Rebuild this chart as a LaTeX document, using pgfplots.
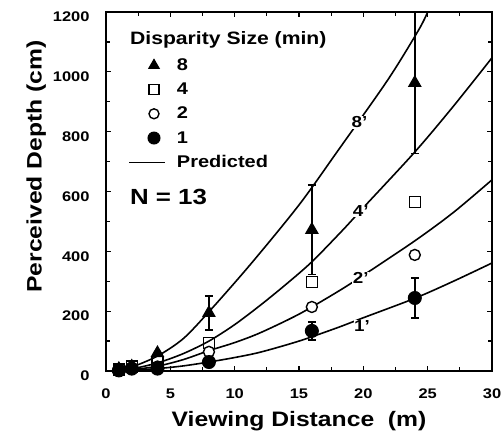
\documentclass[border=0pt]{standalone}
\usepackage{fontspec}
\setmainfont[FakeStretch=1.18]{Liberation Sans}
\usepackage{pgfplots}
\pgfplotsset{compat=1.18}
\begin{document}
\begin{tikzpicture}
\begin{axis}[
  name=ax,
  scale only axis,
  width=386bp, height=359bp,
  xmin=0, xmax=30, ymin=0, ymax=1200,
  xtick={0,5,...,30}, ytick={0,200,...,1200},
  minor x tick num=1, minor y tick num=1,
  tick align=inside,
  major tick length=5bp, minor tick length=4bp,
  every tick/.style={black, line width=1.2bp},
  axis line style={line width=1.6bp},
  /pgf/number format/assume math mode=true,
  /pgf/number format/1000 sep={},
  ticklabel style={font=\bfseries\fontsize{14}{14}\selectfont},
  yticklabel style={yshift=-5bp, xshift=-13bp},
  xticklabel style={yshift=-14bp},
  xlabel={Viewing Distance\ \ (m)},
  ylabel={Perceived Depth (cm)},
  label style={font=\bfseries\fontsize{21}{21}\selectfont},
  xlabel style={yshift=-6bp},
  ylabel style={at={(ticklabel cs:0.57)}},
  legend cell align=left,
  legend style={at={(0.057,0.876)}, anchor=north west, draw=none, fill=none,
    font=\bfseries\fontsize{17}{17}\selectfont, row sep=7bp, inner sep=0pt},
]

% predicted curves
\addplot[black, line width=1.6bp, smooth, forget plot] coordinates {
  (1,3) (2,13) (4,50) (6,108) (8,198) (11.2,355) (15,555) (18,735) (21.9,973) (24.3,1140) (25,1200)};
\addplot[black, line width=1.6bp, smooth, forget plot] coordinates {
  (1,2) (2,7) (4,27) (6,58) (8,100) (10,155) (12,220) (14,290) (16,365) (18.4,471) (20,546) (24,732) (27,885) (30,1047)};
\addplot[black, line width=1.6bp, smooth, forget plot] coordinates {
  (1,1) (2,4) (4,16) (6,38) (8,68) (10,95) (12,128) (15,190) (18,265) (20,320) (24,435) (27,530) (30,639)};
\addplot[black, line width=1.6bp, smooth, forget plot] coordinates {
  (1,0.5) (2,2) (4,8) (6,17) (8,30) (10,45) (12,63) (15,100) (18,145) (20,178) (24,243) (27,300) (30,361)};

% error bars
\addplot[only marks, mark=none, forget plot,
  error bars/.cd, y dir=both, y explicit,
  error bar style={black, line width=1.4bp},
  error mark options={rotate=90, mark size=4bp, line width=1.4bp, black}]
  coordinates {(8,194) +- (0,57) (16,472) +- (0,150) (24,963) +- (0,235)};
\addplot[only marks, mark=none, forget plot,
  error bars/.cd, y dir=both, y explicit,
  error bar style={black, line width=1.4bp},
  error mark options={rotate=90, mark size=4bp, line width=1.4bp, black}]
  coordinates {(16,134) +- (0,30) (24,244) +- (0,67)};

% measured data
\addplot[only marks, mark=triangle*, mark size=7bp, black, fill=black, line width=1bp, forget plot]
  coordinates {(1,7) (2,15) (4,60) (8,194) (16,472) (24,963)};
\addplot[only marks, mark=square, mark size=5.5bp, black, mark options={fill=white}, line width=1.4bp, forget plot]
  coordinates {(1,5) (2,15) (4,30) (8,94) (16,298) (24,565)};
\addplot[only marks, mark=*, mark size=5.5bp, black, mark options={fill=white}, line width=1.4bp, forget plot]
  coordinates {(1,3) (2,10) (4,15) (8,64) (16,214) (24,388)};
\addplot[only marks, mark=*, mark size=6.5bp, black, fill=black, line width=1bp, forget plot]
  coordinates {(1,2) (2,8) (4,8) (8,30) (16,134) (24,244)};

% legend
\addlegendimage{legend image code/.code={\path[draw=none] (0bp,-1bp) rectangle (46bp,1bp);
  \draw[black, fill=black, line width=1bp, mark size=6bp] plot[mark=triangle*] coordinates {(25bp,0bp)};}}
\addlegendentry{8}
\addlegendimage{legend image code/.code={\path[draw=none] (0bp,-1bp) rectangle (46bp,1bp);
  \draw[black, line width=1.4bp, mark size=5bp] plot[mark=square, mark options={fill=white}] coordinates {(25bp,0bp)};}}
\addlegendentry{4}
\addlegendimage{legend image code/.code={\path[draw=none] (0bp,-1bp) rectangle (46bp,1bp);
  \draw[black, line width=1.4bp, mark size=5bp] plot[mark=*, mark options={fill=white}] coordinates {(25bp,0bp)};}}
\addlegendentry{2}
\addlegendimage{legend image code/.code={\path[draw=none] (0bp,-1bp) rectangle (46bp,1bp);
  \draw[black, fill=black, line width=1bp, mark size=6bp] plot[mark=*] coordinates {(25bp,0bp)};}}
\addlegendentry{1}
\addlegendimage{legend image code/.code={\path[draw=none] (0bp,-1bp) rectangle (46bp,1bp);
  \draw[black, line width=1.6bp] (0bp,0bp) -- (36bp,0bp);}}
\addlegendentry{Predicted}

\node[anchor=west, font=\bfseries\fontsize{18}{18}\selectfont] at (axis cs:1.6,1107) {Disparity Size (min)};
\node[anchor=west, font=\bfseries\fontsize{22}{22}\selectfont] at (axis cs:1.6,582) {N = 13};
\node[fill=white, inner sep=0.5bp, font=\bfseries\fontsize{16}{16}\selectfont] at (axis cs:19.7,831) {8'};
\node[fill=white, inner sep=0.5bp, font=\bfseries\fontsize{16}{16}\selectfont] at (axis cs:19.8,535) {4'};
\node[fill=white, inner sep=0.5bp, font=\bfseries\fontsize{16}{16}\selectfont] at (axis cs:19.8,311) {2'};
\node[fill=white, inner sep=0.5bp, font=\bfseries\fontsize{16}{16}\selectfont] at (axis cs:19.9,152) {1'};
\end{axis}
\pgfresetboundingbox
\path ([xshift=-106bp,yshift=-69bp]ax.south west) rectangle ([xshift=11bp,yshift=12bp]ax.north east);
\end{tikzpicture}
\end{document}
